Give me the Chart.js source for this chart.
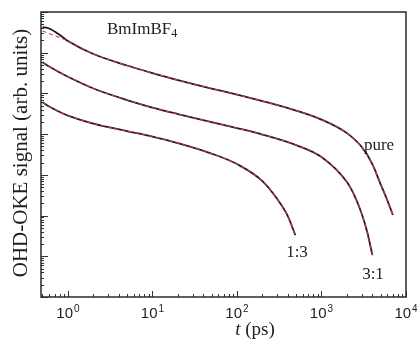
<!DOCTYPE html>
<html>
<head>
<meta charset="utf-8">
<script src="https://cdn.jsdelivr.net/npm/chart.js@4.4.1/dist/chart.umd.min.js"></script>
<style>
  html, body { margin: 0; padding: 0; background: #fff; }
  #chart { display: block; }
</style>
</head>
<body>
<canvas id="chart" width="417" height="343"></canvas>
<script>
// delay times (ps) and OHD-OKE signal
const pureTimes = [0.5, 0.6, 0.8, 1, 2, 5, 10, 20, 50, 100, 200, 500, 1000, 2000, 3000, 4000, 5000, 6000, 7000];
const pureSignal = [0.428, 0.393, 0.272, 0.194, 0.0929, 0.0485, 0.0317, 0.0213, 0.0132, 0.00940, 0.00651, 0.00380, 0.00228, 0.00106, 4.82e-4, 1.84e-4, 5.94e-5, 2.40e-5, 1.03e-5];
const pureFit = [0.341, 0.296, 0.236, 0.194, 0.0929, 0.0485, 0.0317, 0.0213, 0.0132, 0.00940, 0.00651, 0.00380, 0.00228, 0.00106, 4.82e-4, 1.84e-4, 5.94e-5, 2.40e-5, 1.03e-5];

const mix31Times = [0.5, 0.6, 0.8, 1, 2, 5, 10, 20, 50, 100, 200, 500, 1000, 2000, 2500, 3000, 3500, 4000];
const mix31Signal = [0.0584, 0.0458, 0.0326, 0.0256, 0.0132, 0.00688, 0.00450, 0.00312, 0.00198, 0.00141, 9.78e-4, 5.40e-4, 2.74e-4, 6.65e-5, 2.85e-5, 1.09e-5, 3.72e-6, 1.07e-6];

const mix13Times = [0.5, 0.6, 0.8, 1, 2, 5, 10, 20, 50, 100, 200, 300, 400, 490];
const mix13Signal = [0.00608, 0.00477, 0.00349, 0.00286, 0.00182, 0.00119, 8.73e-4, 6.04e-4, 3.34e-4, 1.84e-4, 7.04e-5, 2.54e-5, 9.72e-6, 3.32e-6];

const xTickValues = [1, 10, 100, 1000, 10000];
const xTickExponents = ["0", "1", "2", "3", "4"];

const serif = '"Liberation Serif", "Times New Roman", serif';
const sans = '"Liberation Sans", Arial, sans-serif';

function points(times, values) {
  return times.map((t, i) => ({ x: t, y: values[i] }));
}

function dataLine(times, values) {
  return {
    data: points(times, values),
    borderColor: "#1b1b1b",
    borderWidth: 1.8,
    cubicInterpolationMode: "monotone",
    order: 1,
  };
}

function fitLine(times, values) {
  return {
    data: points(times, values),
    borderColor: "#d8344f",
    borderWidth: 1.1,
    borderDash: [4, 3],
    cubicInterpolationMode: "monotone",
    order: 0,
  };
}

const decorations = {
  id: "decorations",
  afterDraw(chart) {
    const { ctx, chartArea: a, scales } = chart;
    const x = scales.x;
    const y = scales.y;
    ctx.save();

    // inward tick marks
    ctx.strokeStyle = "#333";
    ctx.lineWidth = 1;
    ctx.beginPath();
    for (let e = -1; e <= 4; e++) {
      for (let k = 1; k <= 9; k++) {
        const v = k * Math.pow(10, e);
        if (v < x.min || v > x.max) continue;
        const px = Math.round(x.getPixelForValue(v)) + 0.5;
        const len = k === 1 ? 6 : 3;
        ctx.moveTo(px, a.bottom);
        ctx.lineTo(px, a.bottom - len);
      }
    }
    for (let e = -7; e <= 0; e++) {
      for (let k = 1; k <= 9; k++) {
        const v = k * Math.pow(10, e);
        if (v < y.min || v > y.max) continue;
        const py = Math.round(y.getPixelForValue(v)) + 0.5;
        const len = k === 1 ? 7 : 3;
        ctx.moveTo(a.left, py);
        ctx.lineTo(a.left + len, py);
      }
    }
    ctx.stroke();

    // frame
    ctx.lineWidth = 1.5;
    ctx.strokeStyle = "#2a2a2a";
    ctx.strokeRect(a.left, a.top, a.right - a.left, a.bottom - a.top);

    // x tick labels 10^n
    ctx.fillStyle = "#1e1e1e";
    ctx.textBaseline = "alphabetic";
    ctx.textAlign = "left";
    xTickValues.forEach((v, i) => {
      const px = x.getPixelForValue(v);
      ctx.font = "15px " + sans;
      const w1 = ctx.measureText("10").width;
      ctx.font = "10px " + sans;
      const w2 = ctx.measureText(xTickExponents[i]).width;
      const start = px - (w1 + w2 + 1) / 2;
      ctx.font = "15px " + sans;
      ctx.fillText("10", start, 318);
      ctx.font = "10px " + sans;
      ctx.fillText(xTickExponents[i], start + w1 + 1, 312);
    });

    // x axis title
    ctx.font = "italic 19px " + serif;
    const tW = ctx.measureText("t").width;
    ctx.font = "19px " + serif;
    const rest = " (ps)";
    const rW = ctx.measureText(rest).width;
    const tx = 255 - (tW + rW) / 2;
    ctx.font = "italic 19px " + serif;
    ctx.fillText("t", tx, 335);
    ctx.font = "19px " + serif;
    ctx.fillText(rest, tx + tW, 335);

    // y axis title
    ctx.save();
    ctx.translate(27, 153);
    ctx.rotate(-Math.PI / 2);
    ctx.textAlign = "center";
    ctx.font = "21px " + serif;
    ctx.fillText("OHD-OKE signal (arb. units)", 0, 0);
    ctx.restore();

    // sample name
    ctx.font = "17px " + serif;
    ctx.fillText("BmImBF", 107, 33.5);
    const bw = ctx.measureText("BmImBF").width;
    ctx.font = "12px " + serif;
    ctx.fillText("4", 107 + bw, 37);

    // curve labels
    ctx.textAlign = "center";
    ctx.font = "17px " + serif;
    ctx.fillText("pure", 379, 150);
    ctx.fillText("3:1", 373, 279);
    ctx.fillText("1:3", 297, 257);

    ctx.restore();
  },
};

new Chart(document.getElementById("chart"), {
  type: "line",
  data: {
    datasets: [
      dataLine(pureTimes, pureSignal),
      fitLine(pureTimes, pureFit),
      dataLine(mix31Times, mix31Signal),
      fitLine(mix31Times, mix31Signal),
      dataLine(mix13Times, mix13Signal),
      fitLine(mix13Times, mix13Signal),
    ],
  },
  options: {
    responsive: false,
    animation: false,
    layout: { padding: { left: 41, top: 12, right: 11, bottom: 46 } },
    elements: { point: { radius: 0 } },
    scales: {
      x: { type: "logarithmic", min: 0.48, max: 10000, display: false },
      y: { type: "logarithmic", min: 1e-7, max: 1, display: false },
    },
    plugins: {
      legend: { display: false },
      tooltip: { enabled: false },
    },
  },
  plugins: [decorations],
});
</script>
</body>
</html>
